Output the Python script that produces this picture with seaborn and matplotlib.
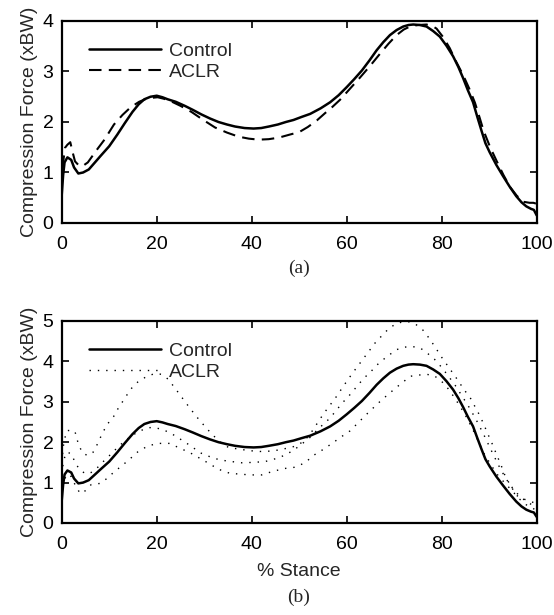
import numpy as np
import pandas as pd
import matplotlib
matplotlib.use("Agg")
import matplotlib.pyplot as plt
import seaborn as sns

# CONTROL (mean, same curve in both panels)
control_x = [0, 0.3, 0.6, 1.2, 2.0, 2.6, 3.5, 4.5, 5.7, 7.0, 8.2, 10, 11.7, 13.3, 14.9,
             16.2, 17.4, 18.7, 20, 21.2, 22.3, 24, 25.9, 27.6, 29.4, 31.2, 33, 34.8,
             36.5, 38.5, 40.4, 42, 43.6, 45.5, 47.2, 48.8, 50.5, 52.3, 54.5, 56.5,
             58.3, 60, 61.6, 63.2, 64.8, 66.3, 67.7, 69.1, 70.5, 71.9, 73, 74, 75.4,
             76.8, 78.2, 79.6, 81, 82.4, 83.5, 84.5, 85.5, 86.6, 87.5, 88.4, 89.2,
             90.1, 91.5, 92.9, 94.3, 95.7, 96.8, 97.8, 98.8, 99.4, 100]
control_y = [0.55, 0.95, 1.2, 1.3, 1.25, 1.1, 0.98, 1.0, 1.06, 1.2, 1.33, 1.52, 1.75,
             1.98, 2.2, 2.35, 2.45, 2.5, 2.52, 2.49, 2.45, 2.4, 2.32, 2.24, 2.15, 2.07,
             2.0, 1.95, 1.91, 1.88, 1.87, 1.88, 1.91, 1.95, 2.0, 2.04, 2.1, 2.16, 2.27,
             2.39, 2.53, 2.69, 2.85, 3.02, 3.22, 3.42, 3.58, 3.72, 3.82, 3.89, 3.92,
             3.93, 3.92, 3.89, 3.8, 3.69, 3.51, 3.3, 3.09, 2.87, 2.63, 2.39, 2.1, 1.82,
             1.58, 1.4, 1.15, 0.93, 0.72, 0.53, 0.41, 0.33, 0.28, 0.26, 0.15]

# ACLR mean (panel a)
aclr_x = [0, 0.3, 0.7, 1.2, 1.8, 2.3, 2.8, 3.5, 4.3, 5.5, 7.4, 9, 11, 12.8, 14.5, 16.3,
          18.1, 20.2, 21.5, 23, 25, 27.3, 29.8, 32.3, 34.8, 37.2, 39.4, 41.5, 43.6,
          45.7, 48, 50, 51.8, 53.7, 55.5, 57, 58.6, 60.7, 62.8, 65, 67, 68.8, 70.5,
          72, 73.3, 75, 76.8, 78, 78.9, 80.3, 81.7, 83, 84.5, 85.8, 87, 88, 88.8,
          90.2, 91.6, 93, 94.4, 95.8, 97.2, 98.5, 99.3, 100]
aclr_y = [0.7, 1.2, 1.49, 1.55, 1.6, 1.4, 1.22, 1.15, 1.12, 1.2, 1.45, 1.65, 1.95, 2.14,
          2.29, 2.4, 2.47, 2.49, 2.46, 2.41, 2.32, 2.2, 2.04, 1.89, 1.79, 1.71, 1.67,
          1.65, 1.66, 1.69, 1.75, 1.8, 1.9, 2.03, 2.18, 2.3, 2.44, 2.66, 2.88, 3.12,
          3.35, 3.55, 3.72, 3.83, 3.89, 3.92, 3.93, 3.9, 3.85, 3.68, 3.46, 3.2, 2.93,
          2.66, 2.38, 2.08, 1.83, 1.5, 1.22, 0.95, 0.71, 0.54, 0.42, 0.4, 0.4, 0.38]

# ACLR upper / mean / lower (panel b, dotted)
upper_x = [0, 0.4, 1.0, 2.0, 2.8, 3.4, 3.9, 4.5, 5.5, 6.6, 7.5, 8.4, 9.5, 10.9, 11.9,
           13.3, 14.5, 16.1, 17.8, 19.6, 21.0, 22.4, 23.9, 25.6, 27, 28.4, 30, 31.6,
           33.3, 35.1, 37.2, 39.6, 41.7, 44.2, 46.3, 48.8, 50.9, 52.3, 53.7, 55.1,
           56.5, 57.9, 59.2, 60.5, 61.8, 63.2, 64.6, 66, 67.6, 69.1, 70.5, 71.5, 73,
           74.5, 76, 77.5, 78.8, 80, 81.5, 83.3, 84.7, 86, 87, 88.1, 89, 89.8, 90.7,
           91.6, 92.5, 93.3, 94.5, 95.8, 97, 97.9, 99, 100]
upper_y = [1.5, 1.95, 2.28, 2.3, 2.26, 2.0, 1.85, 1.72, 1.67, 1.75, 1.95, 2.18, 2.43,
           2.63, 2.84, 3.09, 3.31, 3.5, 3.62, 3.7, 3.68, 3.56, 3.33, 3.06, 2.84, 2.63,
           2.41, 2.2, 2.01, 1.87, 1.83, 1.79, 1.77, 1.78, 1.82, 1.89, 2.01, 2.2, 2.45,
           2.7, 2.92, 3.14, 3.37, 3.59, 3.8, 4.02, 4.24, 4.46, 4.66, 4.84, 4.93, 4.97,
           4.98, 4.92, 4.78, 4.55, 4.32, 4.1, 3.85, 3.55, 3.3, 3.1, 2.88, 2.64, 2.4,
           2.18, 1.94, 1.68, 1.43, 1.18, 0.92, 0.68, 0.6, 0.57, 0.52, 0.48]

mean_x = [0, 0.4, 1.0, 2.0, 3.0, 4.0, 5.0, 6.2, 7.6, 9, 10.5, 12, 13.5, 15, 16.5, 18.2,
          19.6, 21, 22.5, 24, 25.3, 27.4, 29.1, 31.2, 33.3, 35.8, 37.9, 40.3, 42.8,
          45.3, 47, 48.8, 50.5, 52.3, 54.2, 55.9, 57.5, 58.9, 60.5, 62, 63.5, 65.1,
          66.8, 68.6, 70.5, 72, 73.7, 75.5, 77, 78.5, 80, 81.5, 83, 84.5, 86, 87.5,
          89, 90.5, 92, 93.5, 95, 96.5, 98, 99, 100]
mean_y = [1.2, 1.55, 1.75, 1.72, 1.45, 1.3, 1.22, 1.25, 1.38, 1.55, 1.72, 1.9, 2.05,
          2.18, 2.28, 2.36, 2.36, 2.32, 2.25, 2.15, 2.05, 1.89, 1.74, 1.64, 1.56, 1.52,
          1.49, 1.5, 1.52, 1.6, 1.68, 1.8, 1.95, 2.12, 2.35, 2.53, 2.74, 2.95, 3.15,
          3.36, 3.57, 3.75, 3.96, 4.13, 4.29, 4.35, 4.37, 4.33, 4.2, 4.05, 3.85, 3.62,
          3.38, 3.1, 2.82, 2.5, 2.15, 1.78, 1.42, 1.1, 0.85, 0.65, 0.52, 0.45, 0.38]

lower_x = [0, 0.4, 1.0, 2.0, 3.0, 3.9, 5.0, 6.2, 8.1, 9.5, 10.9, 12.9, 14.5, 16.1, 18.2,
           20.3, 22.7, 24.9, 27, 29.1, 30.9, 33, 35.4, 37.5, 39.6, 42.1, 44.5, 47,
           49.1, 51.2, 53.1, 54.9, 56.8, 58.7, 60.7, 62.4, 64, 65.6, 67.4, 68.8, 70.5,
           71.9, 73.3, 75.1, 76.8, 78.3, 79.6, 81, 82.4, 83.8, 85.3, 86.6, 87.8, 89,
           90.3, 91.7, 93.2, 94.8, 96.3, 97.8, 99, 100]
lower_y = [0.7, 1.0, 1.2, 1.15, 0.9, 0.73, 0.8, 0.95, 0.98, 1.1, 1.25, 1.44, 1.6, 1.77,
           1.91, 1.97, 1.97, 1.85, 1.74, 1.6, 1.48, 1.33, 1.23, 1.21, 1.19, 1.19, 1.28,
           1.35, 1.38, 1.49, 1.68, 1.81, 1.96, 2.12, 2.28, 2.48, 2.67, 2.85, 3.05, 3.19,
           3.36, 3.49, 3.63, 3.66, 3.68, 3.65, 3.55, 3.38, 3.15, 2.9, 2.6, 2.3, 2.0,
           1.7, 1.45, 1.2, 1.0, 0.8, 0.6, 0.45, 0.38, 0.3]

x_ticks = [0, 20, 40, 60, 80, 100]

sns.set_style("ticks")
plt.rcParams["font.family"] = ["Liberation Sans", "DejaVu Sans"]
plt.rcParams["font.size"] = 14
plt.rcParams["xtick.direction"] = "in"
plt.rcParams["ytick.direction"] = "in"
plt.rcParams["xtick.color"] = "black"
plt.rcParams["ytick.color"] = "black"
plt.rcParams["axes.edgecolor"] = "black"

fig = plt.figure(figsize=(5.54, 6.15), dpi=100)
ax1 = fig.add_axes([0.1114, 0.6374, 0.8574, 0.3285])
ax2 = fig.add_axes([0.1114, 0.1496, 0.8574, 0.3285])

dash = (0, (6, 3.5))
dots = (0, (1, 5))

# PANEL (a)
sns.lineplot(x=control_x, y=control_y, ax=ax1, color="black", lw=1.8,
             sort=False, label="Control")
sns.lineplot(x=aclr_x, y=aclr_y, ax=ax1, color="black", lw=1.5,
             linestyle=dash, sort=False, label="ACLR")
ax1.set_ylim(0, 4)
ax1.set_yticks([0, 1, 2, 3, 4])

# PANEL (b)
sns.lineplot(x=control_x, y=control_y, ax=ax2, color="black", lw=1.8,
             sort=False, label="Control")
sns.lineplot(x=upper_x, y=upper_y, ax=ax2, color="black", lw=1.0,
             linestyle=dots, sort=False, label="ACLR")
sns.lineplot(x=mean_x, y=mean_y, ax=ax2, color="black", lw=1.0,
             linestyle=dots, sort=False)
sns.lineplot(x=lower_x, y=lower_y, ax=ax2, color="black", lw=1.0,
             linestyle=dots, sort=False)
ax2.set_ylim(0, 5)
ax2.set_yticks([0, 1, 2, 3, 4, 5])
ax2.set_xlabel("% Stance", fontsize=14, labelpad=7)

for ax in (ax1, ax2):
    ax.set_xlim(0, 100)
    ax.set_xticks(x_ticks)
    ax.set_ylabel("Compression Force (xBW)", fontsize=14, labelpad=3)
    ax.tick_params(top=True, right=True, length=5, width=1.2, labelsize=14, pad=6)
    ax.tick_params(axis="x", pad=9.5)
    for sp in ax.spines.values():
        sp.set_visible(True)
        sp.set_linewidth(1.6)
    ax.legend(loc="upper left", frameon=False, fontsize=14, handlelength=3.7,
              handletextpad=0.45, labelspacing=0.15, borderaxespad=0.5,
              bbox_to_anchor=(0.02, 0.98))

fig.text(0.5397, 1 - 268 / 615, "(a)", ha="center", va="center",
         fontsize=14, family=["Liberation Serif", "DejaVu Serif"])
fig.text(0.5397, 1 - 597 / 615, "(b)", ha="center", va="center",
         fontsize=14, family=["Liberation Serif", "DejaVu Serif"])

fig.savefig("out.png", dpi=100)
